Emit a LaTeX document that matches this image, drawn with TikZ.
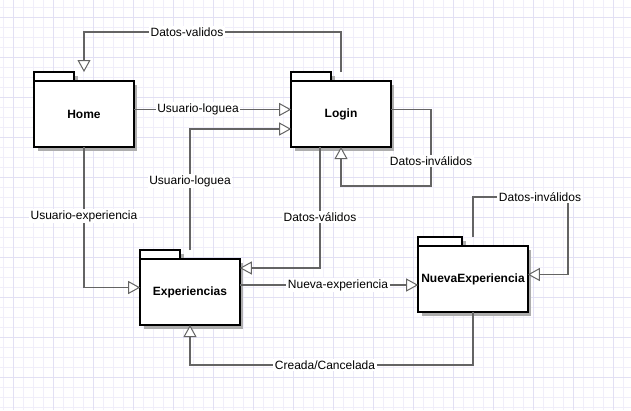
\documentclass[tikz,border=0pt]{standalone}
\usepackage{fontspec}
\setmainfont{Liberation Sans}
\usetikzlibrary{arrows.meta,shadows}
\definecolor{gridminor}{RGB}{240,238,250}
\definecolor{gridmajor}{RGB}{226,224,244}
\definecolor{edgegray}{RGB}{100,100,100}
\newcommand\pkgshape[6]{%
  \node[pkgframe=#4] (#1) at (#2,#3+37.5) {};
  \node[pkgtab, minimum width=#5, anchor=north west] (#1tab) at (#1.north west) {};
  \node[pkgbody, minimum width=#4, anchor=south] (#1body) at (#1.south) {#6};
}
\begin{document}
\begin{tikzpicture}[x=1bp,y=-1bp,
  pkgframe/.style={draw=none, inner sep=0pt, outer sep=0pt, minimum width=#1, minimum height=75bp},
  pkgshadow/.style={drop shadow={shadow xshift=3.5bp, shadow yshift=-3.5bp, fill=black!32, opacity=1}},
  pkgtab/.style={draw=black, line width=2bp, fill=white, inner sep=0pt, outer sep=0pt, minimum height=10bp, pkgshadow},
  pkgbody/.style={draw=black, line width=2bp, fill=white, inner sep=0pt, outer sep=0pt, minimum height=66bp, pkgshadow, font=\fontsize{12bp}{14bp}\selectfont\bfseries},
  edge/.style={draw=edgegray, line width=1.3bp, -{Triangle[length=12bp,width=13bp,fill=white,line width=1bp]}},
  lbl/.style={fill=white, inner sep=1.5bp, text=black, font=\fontsize{12bp}{14bp}\selectfont}
]
\useasboundingbox (0,0) rectangle (631,410);
\fill[white] (0,0) rectangle (631,410);
% grid
\foreach \gx in {3.5,13.5,...,631} {\draw[gridminor, line width=0.8bp] (\gx,0) -- (\gx,410);}
\foreach \gy in {7,17,...,410} {\draw[gridminor, line width=0.8bp] (0,\gy) -- (631,\gy);}
\foreach \gx in {13.5,53.5,...,631} {\draw[gridmajor, line width=0.8bp] (\gx,0) -- (\gx,410);}
\foreach \gy in {17,57,...,410} {\draw[gridmajor, line width=0.8bp] (0,\gy) -- (631,\gy);}

% packages
\pkgshape{home}{84}{72}{100}{40}{Home}
\pkgshape{login}{341}{72}{100}{40}{Login}
\pkgshape{exp}{190}{250}{100}{40}{Experiencias}
\pkgshape{nexp}{473}{237}{110}{44}{NuevaExperiencia}

% connectors
\draw[edge] (login.north) -- (login.north |- 0,32) -| (home.north);
\draw[edge] (home.east) -- (login.west);
\draw[edge] (exp.north) |- (login.west |- 0,129);
\draw[edge] (home.south) |- (exp.west);
\draw[edge] (login.south -| 320,0) |- (exp.east |- 0,268);
\draw[edge] (login.east) -| (431,186) -| (login.south);
\draw[edge] (exp.east |- 0,285) -- (nexp.west |- 0,285);
\draw[edge] (nexp.north) |- (568,197) |- (nexp.east);
\draw[edge] (nexp.south) -- (nexp.south |- 0,365) -| (exp.south);

% labels
\node[lbl] (l1) at (187,32) {Datos-validos};
\node[lbl] (l2) at (198,109) {Usuario-loguea};
\node[lbl] (l3) at (190,181) {Usuario-loguea};
\node[lbl] (l4) at (84,216) {Usuario-experiencia};
\node[lbl] (l5) at (320,217) {Datos-válidos};
\node[lbl] (l6) at (431,161) {Datos-inválidos};
\node[lbl] (l7) at (338,285) {Nueva-experiencia};
\node[lbl] (l8) at (540,197) {Datos-inválidos};
\node[lbl] (l9) at (325,365) {Creada/Cancelada};
\end{tikzpicture}
\end{document}
